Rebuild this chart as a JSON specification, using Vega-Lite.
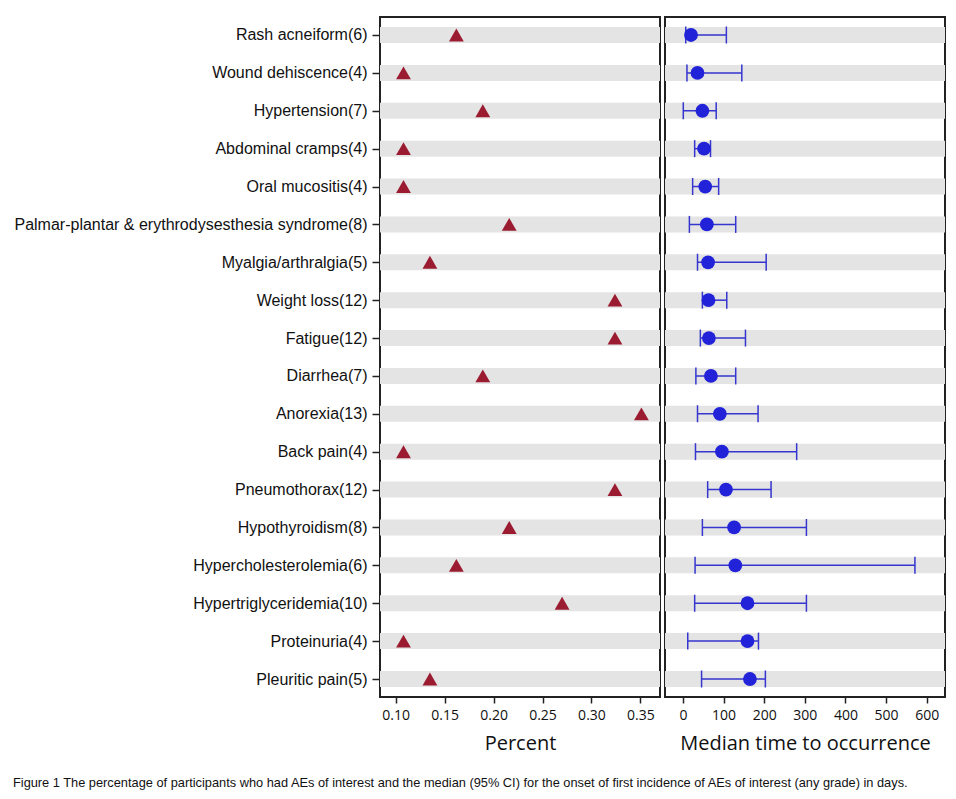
{
  "$schema": "https://vega.github.io/schema/vega-lite/v6.json",
  "padding": {"top": 16, "left": 12, "right": 5, "bottom": 5},
  "background": "white",
  "title": {
    "text": "Figure 1 The percentage of participants who had AEs of interest and the median (95% CI) for the onset of first incidence of AEs of interest (any grade) in days.",
    "orient": "bottom",
    "anchor": "start",
    "font": "Liberation Sans",
    "fontSize": 12.8,
    "fontWeight": "normal",
    "color": "#111",
    "offset": 23
  },
  "data": {
    "values": [
      {"ae": "Rash acneiform(6)", "pct": 0.162, "median": 20, "lo": 7, "hi": 107},
      {"ae": "Wound dehiscence(4)", "pct": 0.108, "median": 36, "lo": 10, "hi": 145},
      {"ae": "Hypertension(7)", "pct": 0.189, "median": 48, "lo": 1, "hi": 82},
      {"ae": "Abdominal cramps(4)", "pct": 0.108, "median": 52, "lo": 29, "hi": 68},
      {"ae": "Oral mucositis(4)", "pct": 0.108, "median": 55, "lo": 24, "hi": 88},
      {"ae": "Palmar-plantar & erythrodysesthesia syndrome(8)", "pct": 0.216, "median": 59, "lo": 16, "hi": 130},
      {"ae": "Myalgia/arthralgia(5)", "pct": 0.135, "median": 62, "lo": 36, "hi": 205},
      {"ae": "Weight loss(12)", "pct": 0.324, "median": 63, "lo": 48, "hi": 108},
      {"ae": "Fatigue(12)", "pct": 0.324, "median": 64, "lo": 43, "hi": 154},
      {"ae": "Diarrhea(7)", "pct": 0.189, "median": 69, "lo": 32, "hi": 130},
      {"ae": "Anorexia(13)", "pct": 0.351, "median": 91, "lo": 36, "hi": 185},
      {"ae": "Back pain(4)", "pct": 0.108, "median": 96, "lo": 31, "hi": 280},
      {"ae": "Pneumothorax(12)", "pct": 0.324, "median": 106, "lo": 61, "hi": 217},
      {"ae": "Hypothyroidism(8)", "pct": 0.216, "median": 126, "lo": 48, "hi": 304},
      {"ae": "Hypercholesterolemia(6)", "pct": 0.162, "median": 129, "lo": 30, "hi": 571},
      {"ae": "Hypertriglyceridemia(10)", "pct": 0.27, "median": 159, "lo": 29, "hi": 304},
      {"ae": "Proteinuria(4)", "pct": 0.108, "median": 159, "lo": 12, "hi": 186},
      {"ae": "Pleuritic pain(5)", "pct": 0.135, "median": 165, "lo": 46, "hi": 203}
    ]
  },
  "spacing": 3,
  "hconcat": [
    {
      "width": 280,
      "height": 680,
      "encoding": {
        "y": {
          "field": "ae", "type": "nominal", "sort": null,
          "scale": {"type": "point", "padding": 0.475},
          "axis": {"title": null, "domain": false, "grid": false, "ticks": true, "tickSize": 8, "tickColor": "#222", "tickWidth": 1.5, "labelFont": "Liberation Sans", "labelFontSize": 16, "labelColor": "#111", "labelPadding": 5, "labelLimit": 0}
        }
      },
      "layer": [
        {
          "mark": {"type": "bar", "color": "#e4e4e4", "size": 16},
          "encoding": {
            "x": {"datum": 0.084, "type": "quantitative"},
            "x2": {"datum": 0.37}
          }
        },
        {
          "mark": {"type": "point", "shape": "triangle-up", "filled": true, "color": "#9b1c31", "opacity": 1, "size": 220},
          "encoding": {
            "x": {
              "field": "pct", "type": "quantitative",
              "scale": {"domain": [0.084, 0.37], "nice": false, "zero": false},
              "axis": {"title": "Percent", "values": [0.1, 0.15, 0.2, 0.25, 0.3, 0.35], "format": ".2f", "grid": false, "domain": false, "tickSize": 6, "tickColor": "#222", "tickWidth": 1.5, "labelFont": "Open Sans", "labelFontSize": 14, "labelColor": "#111", "labelPadding": 5, "titleFont": "Open Sans", "titleFontSize": 20, "titleFontWeight": "normal", "titleColor": "#111", "titlePadding": 11}
            }
          }
        }
      ]
    },
    {
      "width": 280,
      "height": 680,
      "encoding": {
        "y": {
          "field": "ae", "type": "nominal", "sort": null,
          "scale": {"type": "point", "padding": 0.475},
          "axis": null
        }
      },
      "layer": [
        {
          "mark": {"type": "bar", "color": "#e4e4e4", "size": 16},
          "encoding": {
            "x": {"datum": -44, "type": "quantitative"},
            "x2": {"datum": 645}
          }
        },
        {
          "mark": {"type": "rule", "color": "#3535d0", "strokeWidth": 1.5},
          "encoding": {
            "x": {"field": "lo", "type": "quantitative"},
            "x2": {"field": "hi"}
          }
        },
        {
          "mark": {"type": "tick", "color": "#3535d0", "thickness": 1.5, "size": 17, "opacity": 1},
          "encoding": {"x": {"field": "lo", "type": "quantitative"}}
        },
        {
          "mark": {"type": "tick", "color": "#3535d0", "thickness": 1.5, "size": 17, "opacity": 1},
          "encoding": {"x": {"field": "hi", "type": "quantitative"}}
        },
        {
          "mark": {"type": "circle", "color": "#2222d8", "opacity": 1, "size": 190},
          "encoding": {
            "x": {
              "field": "median", "type": "quantitative",
              "scale": {"domain": [-44, 645], "nice": false, "zero": false},
              "axis": {"title": "Median time to occurrence", "values": [0, 100, 200, 300, 400, 500, 600], "grid": false, "domain": false, "tickSize": 6, "tickColor": "#222", "tickWidth": 1.5, "labelFont": "Open Sans", "labelFontSize": 14, "labelColor": "#111", "labelPadding": 5, "titleFont": "Open Sans", "titleFontSize": 20, "titleFontWeight": "normal", "titleColor": "#111", "titlePadding": 11}
            }
          }
        }
      ]
    }
  ],
  "config": {
    "view": {"stroke": "#222", "strokeWidth": 2}
  }
}
